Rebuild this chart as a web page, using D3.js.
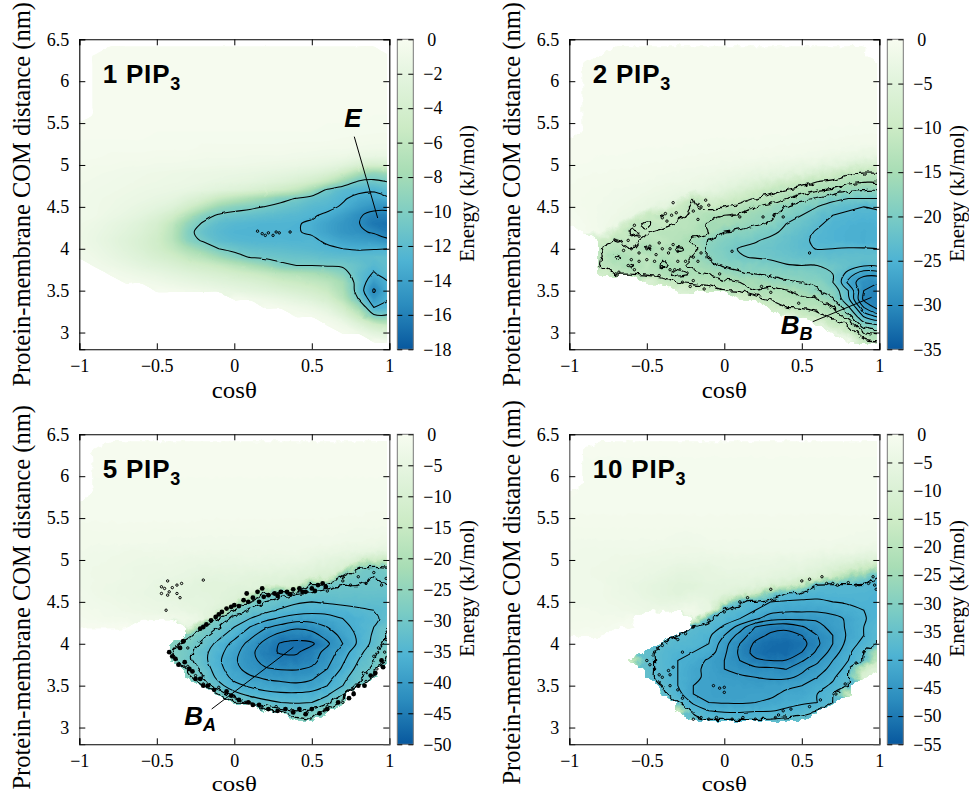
<!DOCTYPE html>
<html>
<head>
<meta charset="utf-8">
<script src="https://cdn.jsdelivr.net/npm/d3@7"></script>
<style>
  html, body { margin: 0; background: #fff; }
  svg { display: block; }
  text { font-family: "Liberation Serif", serif; fill: #000; }
  .title, .tag { font-family: "Liberation Sans", Arial, sans-serif; font-weight: bold; }
  .title { letter-spacing: .8px; }
  .tag { font-style: italic; }
</style>
</head>
<body>
<svg id="chart" width="969" height="796"></svg>
<script>
const _ = null

// axis values of the grids below
const cosValues = [-1, -.9, -.8, -.7, -.6, -.5, -.4, -.3, -.2, -.1, 0, .1, .2, .3, .4, .5, .6, .7, .8, .9, 1]
const distValues = [6.5, 6.4, 6.3, 6.2, 6.1, 6, 5.9, 5.8, 5.7, 5.6, 5.5, 5.4, 5.3, 5.2, 5.1, 5, 4.9, 4.8, 4.7, 4.6, 4.5, 4.4, 4.3, 4.2, 4.1, 4, 3.9, 3.8, 3.7, 3.6, 3.5, 3.4, 3.3, 3.2, 3.1, 3, 2.9, 2.8]
const xTicks = [-1, -.5, 0, .5, 1]
const yTicks = [3, 3.5, 4, 4.5, 5, 5.5, 6, 6.5]

// energy (kJ/mol), one row per distance, top row first. _ = no data
const energy1 = [
  [_,_,_,_,_,_,_,_,_,_,_,_,_,_,_,_,_,_,_,_,_],
  [_,_,-.2,-.2,-.2,-.2,-.2,-.2,-.2,-.2,-.2,-.2,-.2,-.2,-.2,-.2,-.2,-.2,-.2,-.2,_],
  [_,-.2,-.2,-.2,-.2,-.2,-.2,-.2,-.2,-.2,-.2,-.2,-.2,-.2,-.2,-.2,-.2,-.2,-.2,-.2,-.2],
  [_,-.2,-.2,-.2,-.2,-.2,-.2,-.2,-.2,-.2,-.2,-.2,-.2,-.2,-.2,-.2,-.2,-.2,-.2,-.2,-.2],
  [_,-.2,-.2,-.2,-.2,-.2,-.2,-.2,-.2,-.2,-.2,-.2,-.2,-.2,-.2,-.2,-.2,-.2,-.2,-.2,-.2],
  [_,-.2,-.2,-.2,-.2,-.2,-.2,-.2,-.2,-.2,-.2,-.2,-.2,-.2,-.2,-.2,-.2,-.2,-.2,-.2,-.2],
  [_,-.2,-.2,-.2,-.2,-.2,-.2,-.2,-.2,-.2,-.2,-.2,-.2,-.2,-.2,-.2,-.2,-.2,-.2,-.2,-.2],
  [_,-.2,-.2,-.2,-.2,-.2,-.2,-.2,-.2,-.2,-.2,-.2,-.2,-.2,-.2,-.2,-.2,-.2,-.2,-.2,-.2],
  [_,-.2,-.2,-.2,-.2,-.2,-.2,-.2,-.2,-.2,-.2,-.2,-.2,-.2,-.2,-.2,-.2,-.2,-.2,-.2,-.2],
  [_,-.2,-.2,-.2,-.2,-.2,-.2,-.2,-.2,-.2,-.2,-.2,-.2,-.2,-.2,-.2,-.2,-.2,-.2,-.3,-.3],
  [-.2,-.2,-.2,-.2,-.2,-.2,-.2,-.2,-.2,-.2,-.2,-.2,-.2,-.2,-.2,-.2,-.3,-.3,-.3,-.3,-.3],
  [-.2,-.2,-.2,-.2,-.2,-.3,-.3,-.3,-.3,-.3,-.3,-.3,-.3,-.3,-.3,-.3,-.3,-.3,-.4,-.4,-.4],
  [-.3,-.3,-.3,-.3,-.3,-.3,-.3,-.3,-.4,-.4,-.4,-.4,-.4,-.4,-.4,-.4,-.4,-.5,-.5,-.6,-.6],
  [-.3,-.3,-.4,-.4,-.4,-.4,-.4,-.4,-.5,-.5,-.5,-.5,-.5,-.5,-.6,-.6,-.7,-.7,-.8,-.9,-.9],
  [-.4,-.4,-.5,-.5,-.5,-.6,-.6,-.6,-.7,-.7,-.7,-.8,-.8,-.8,-.9,-1,-1.1,-1.2,-1.5,-1.7,-1.6],
  [-.5,-.6,-.6,-.7,-.7,-.8,-.8,-.9,-.9,-1,-1,-1.1,-1.2,-1.3,-1.4,-1.6,-1.9,-2.5,-3.5,-4,-3.5],
  [-.6,-.7,-.8,-.9,-1,-1.1,-1.2,-1.3,-1.4,-1.5,-1.6,-1.7,-1.9,-2.1,-2.4,-2.8,-3.5,-5,-7.5,-9,-8],
  [-.7,-.8,-.9,-1,-1.1,-1.2,-1.3,-1.4,-1.6,-1.8,-2,-2.2,-2.6,-3,-3.6,-4.5,-6,-8.5,-10.8,-11,-10.4],
  [-.8,-.9,-1,-1.1,-1.3,-1.4,-1.6,-1.8,-2.2,-2.6,-3,-3.5,-4.2,-5,-6,-8,-11,-12.2,-12.6,-12.8,-12],
  [-.8,-1,-1.1,-1.3,-1.5,-1.8,-2.1,-3,-4,-5.5,-6.5,-7.5,-8.5,-9.8,-10.6,-11.5,-12,-12.8,-13.5,-13.7,-13.2],
  [-.8,-1,-1.2,-1.5,-1.9,-2.3,-3,-4.5,-6.5,-8.5,-9.5,-10,-10.6,-11.2,-11.7,-12.3,-12.6,-13.2,-14.2,-15,-15],
  [-.8,-1,-1.4,-1.8,-2.3,-3.2,-4.5,-7,-9.5,-10.8,-11.3,-11.6,-11.9,-12.2,-12.4,-12.8,-13.3,-14.2,-15.3,-16,-16],
  [-1,-1.3,-1.8,-2.3,-3,-4,-6,-9,-10.8,-12,-12.4,-12.6,-12.8,-12.8,-12.9,-13.2,-14,-14.8,-15.4,-16.5,-16.8],
  [-1.1,-1.5,-2,-2.6,-3.3,-4.4,-6.5,-9.8,-11.5,-12.3,-12.8,-12.9,-12.9,-12.9,-12.9,-13.2,-14,-14.8,-15.2,-15.7,-16.3],
  [-1.1,-1.6,-2.2,-2.9,-3.6,-4.7,-6.5,-9.5,-10.8,-12,-12.4,-12.6,-12.7,-12.7,-12.8,-12.7,-13.3,-14,-14.3,-14.6,-15.2],
  [-.9,-1.4,-2,-2.7,-3.5,-4.5,-5.8,-7.5,-9,-10.5,-11.2,-11.7,-11.9,-12,-12.2,-12.4,-12.7,-13,-13.2,-13.1,-13],
  [-.7,-1.1,-1.7,-2.3,-3,-3.8,-4.6,-5.8,-6.8,-8.2,-9.5,-10.6,-11,-11.2,-11.4,-11.5,-11.8,-11.9,-12,-12,-11.8],
  [_,-.8,-1.2,-1.7,-2.3,-2.8,-3.4,-4.2,-4.8,-5.5,-6.5,-7.5,-8.5,-10,-10.5,-10.5,-10.7,-10.8,-11.5,-12.4,-11.8],
  [_,_,-.6,-1,-1.4,-1.8,-2.3,-2.8,-3.3,-3.8,-4.4,-5,-5.7,-6.5,-7,-7.5,-8.2,-9.5,-11.8,-13.2,-12],
  [_,_,_,-.4,-.7,-1,-1.4,-1.8,-2.2,-2.6,-3,-3.4,-4,-4.8,-5.3,-5.8,-6.5,-8,-11.5,-14.5,-12.9],
  [_,_,_,_,_,-.3,-.5,-.8,-1.1,-1.5,-1.9,-2.3,-2.7,-3.2,-3.8,-4.4,-5.4,-7.5,-11.5,-15.8,-12.8],
  [_,_,_,_,_,_,_,_,_,_,-.4,-.8,-1.2,-1.7,-2.3,-3,-4,-6.5,-10.5,-14.5,-12.9],
  [_,_,_,_,_,_,_,_,_,_,_,_,-.3,-.6,-1,-1.5,-2.5,-4.5,-8,-13,-12.7],
  [_,_,_,_,_,_,_,_,_,_,_,_,_,_,-.3,-.6,-1.2,-2.8,-5.5,-10,-10],
  [_,_,_,_,_,_,_,_,_,_,_,_,_,_,_,_,-.4,-1.2,-3,-5,-6],
  [_,_,_,_,_,_,_,_,_,_,_,_,_,_,_,_,_,-.4,-1.2,-2.5,-3],
  [_,_,_,_,_,_,_,_,_,_,_,_,_,_,_,_,_,_,_,-.4,-.8],
  [_,_,_,_,_,_,_,_,_,_,_,_,_,_,_,_,_,_,_,_,_]
]

const energy2 = [
  [_,_,_,_,_,_,_,_,_,_,_,_,_,_,_,_,_,_,_,_,_],
  [_,_,_,-.3,-.3,-.3,-.3,-.3,-.3,-.3,-.3,-.3,-.3,-.3,-.3,-.3,-.3,-.3,-.3,-.3,_],
  [_,_,-.3,-.3,-.3,-.3,-.3,-.3,-.3,-.3,-.3,-.3,-.3,-.3,-.3,-.3,-.3,-.3,-.3,-.3,_],
  [_,-.3,-.3,-.3,-.3,-.3,-.3,-.3,-.3,-.3,-.3,-.3,-.3,-.3,-.3,-.3,-.3,-.3,-.3,-.3,-.3],
  [_,-.3,-.3,-.3,-.3,-.3,-.3,-.3,-.3,-.3,-.3,-.3,-.3,-.3,-.3,-.3,-.3,-.3,-.3,-.3,-.3],
  [_,-.4,-.4,-.4,-.4,-.4,-.4,-.4,-.4,-.4,-.4,-.4,-.4,-.4,-.4,-.4,-.4,-.4,-.4,-.4,-.4],
  [_,-.4,-.4,-.4,-.4,-.4,-.4,-.4,-.4,-.4,-.4,-.4,-.4,-.4,-.4,-.4,-.4,-.4,-.4,-.4,-.4],
  [_,-.4,-.4,-.4,-.4,-.4,-.4,-.4,-.4,-.4,-.4,-.4,-.4,-.4,-.4,-.4,-.4,-.4,-.4,-.4,-.4],
  [_,-.4,-.4,-.4,-.4,-.4,-.4,-.4,-.4,-.4,-.4,-.4,-.4,-.4,-.4,-.4,-.4,-.4,-.4,-.4,-.4],
  [_,-.4,-.4,-.4,-.4,-.4,-.4,-.4,-.4,-.4,-.4,-.4,-.4,-.4,-.4,-.4,-.4,-.4,-.4,-.5,-.5],
  [_,-.4,-.4,-.4,-.4,-.4,-.4,-.4,-.4,-.4,-.4,-.4,-.4,-.4,-.4,-.5,-.5,-.5,-.5,-.6,-.6],
  [_,-.4,-.4,-.4,-.4,-.4,-.4,-.4,-.5,-.5,-.5,-.5,-.5,-.5,-.5,-.6,-.6,-.7,-.7,-.8,-.8],
  [-.3,-.4,-.4,-.5,-.5,-.5,-.5,-.5,-.5,-.6,-.6,-.6,-.6,-.7,-.7,-.8,-.8,-.9,-1,-1,-1],
  [-.4,-.4,-.5,-.5,-.5,-.6,-.6,-.6,-.7,-.7,-.8,-.8,-.8,-.9,-1,-1,-1.2,-1.4,-1.6,-1.8,-1.8],
  [-.5,-.5,-.6,-.6,-.7,-.7,-.7,-.8,-.9,-1,-1.1,-1.2,-1.3,-1.4,-1.5,-1.7,-2,-2.5,-3,-3.5,-3.5],
  [-.6,-.6,-.7,-.7,-.8,-.9,-1,-1.1,-1.3,-1.5,-1.7,-1.9,-2.2,-2.5,-2.8,-3.2,-3.8,-4.5,-5.5,-7,-7],
  [-.7,-.8,-.9,-1,-1,-1.2,-1.4,-1.6,-1.8,-2,-2.5,-3,-3.5,-4,-4.5,-5.5,-7,-9,-11.5,-12.2,-12],
  [-.8,-1,-1,-1.2,-1.3,-1.5,-1.8,-2,-2.3,-2.8,-3.5,-4.5,-6,-7.5,-9,-10.5,-12,-13,-14,-14.8,-14.5],
  [-1,-1.1,-1.3,-1.5,-1.7,-2,-2.4,-2.8,-3.2,-3.8,-5,-7,-9,-11,-12.2,-13.2,-15,-15.5,-17.3,-17.8,-17.6],
  [-1,-1.2,-1.4,-1.7,-2,-2.5,-3,-3.8,-12.3,-7,-8,-10,-12.2,-13,-15,-17,-18,-20,-21,-21,-21],
  [-.8,-1.2,-1.5,-1.9,-2.4,-3.2,-4.5,-10,-12.5,-11,-12,-13.5,-15,-16.5,-18,-19.5,-21,-22.5,-23.5,-24,-23.5],
  [-.6,-1.1,-1.6,-2.2,-3,-10,-12.2,-11,-13,-14,-15,-15.5,-16.5,-17.5,-19.5,-21,-22.5,-24,-24.5,-24.8,-24.6],
  [-.3,-.9,-1.6,-2.5,-11,-12.5,-10.5,-12.5,-13,-15.5,-15.5,-16.5,-17.5,-18.5,-21,-22,-23.5,-24.8,-25.2,-25.5,-25.2],
  [_,-.6,-1.5,-9,-12.5,-11.5,-13,-13,-13.5,-15,-18,-18.5,-19.5,-20.5,-21.5,-23,-24.3,-25,-25.5,-25.7,-25.5],
  [_,_,-9,-12.2,-11,-13,-12,-13.5,-15.5,-18,-19.5,-20,-20.8,-21.5,-22.5,-23.5,-24.5,-25,-25.5,-25.7,-25.4],
  [_,_,-12,-13,-12,-15.5,-13,-15.5,-14,-18.5,-20,-21.2,-21.5,-22,-22.5,-23.5,-24.1,-24,-23.8,-23.8,-24],
  [_,_,-11.5,-15.5,-13.5,-12,-14.5,-13,-15.5,-18.5,-19.5,-20.8,-21.2,-21.5,-22,-22.5,-22.8,-23,-23,-23,-22.8],
  [_,_,-12.5,-13,-15.5,-12,-15.5,-14,-15.5,-16.5,-18.5,-19,-19.5,-20,-20.8,-21,-21,-21.5,-22.5,-23.8,-23.5],
  [_,_,-8,-12,-12.5,-13,-13.5,-16,-14.5,-15,-16,-17.5,-18,-18.5,-19,-19.5,-20,-21,-25,-27.3,-27],
  [_,_,_,_,_,-6,-10,-12,-13,-13.5,-14.5,-15,-15.5,-16.5,-17.5,-18,-18.5,-21,-26.5,-29.5,-30],
  [_,_,_,_,_,_,_,-6,-8,-10,-12,-12.5,-15,-14,-14.8,-16,-17.8,-19,-24,-30,-31.5],
  [_,_,_,_,_,_,_,_,_,_,_,-8,-10,-12.5,-13,-14.5,-15,-17.8,-23.5,-30.5,-31.5],
  [_,_,_,_,_,_,_,_,_,_,_,_,_,-9,-12,-12.5,-13,-15,-20.5,-28,-31],
  [_,_,_,_,_,_,_,_,_,_,_,_,_,_,-5,-9,-11,-13,-17,-24.5,-27],
  [_,_,_,_,_,_,_,_,_,_,_,_,_,_,_,_,-5,-10,-12.5,-20,-21.5],
  [_,_,_,_,_,_,_,_,_,_,_,_,_,_,_,_,_,-3,-9,-15,-16],
  [_,_,_,_,_,_,_,_,_,_,_,_,_,_,_,_,_,_,-1,-11,-12],
  [_,_,_,_,_,_,_,_,_,_,_,_,_,_,_,_,_,_,_,_,_]
]

const energy5 = [
  [_,_,_,_,_,_,_,_,_,_,_,_,_,_,_,_,_,_,_,_,_],
  [_,_,-.5,-.5,-.5,-.5,-.5,-.5,-.5,-.5,-.5,-.5,-.5,-.5,-.5,-.5,-.5,-.5,-.5,-.5,-.5],
  [_,-.6,-.6,-.6,-.6,-.6,-.6,-.6,-.6,-.6,-.6,-.6,-.6,-.6,-.6,-.6,-.6,-.6,-.6,-.6,-.6],
  [_,-.8,-.8,-.8,-.8,-.8,-.8,-.8,-.8,-.8,-.8,-.8,-.8,-.8,-.8,-.8,-.8,-.8,-.8,-.8,-.8],
  [_,-.8,-.8,-.8,-.8,-.8,-.8,-.8,-.8,-.8,-.8,-.8,-.8,-.8,-.8,-.8,-.8,-.8,-.8,-.8,-.8],
  [_,-.8,-.8,-.8,-.8,-.8,-.8,-.8,-.8,-.8,-.8,-.8,-.8,-.8,-.8,-.8,-.8,-.8,-.8,-.8,-.8],
  [_,-1,-1,-1,-1,-1,-1,-1,-1,-1,-1,-1,-1,-1,-1,-1,-1,-1,-1,-1,-1],
  [_,-1,-1,-1,-1,-1,-1,-1,-1,-1,-1,-1,-1,-1,-1,-1,-1,-1,-1,-1,-1],
  [-.8,-1,-1,-1,-1,-1,-1,-1,-1,-1,-1,-1,-1,-1,-1,-1,-1,-1,-1,-1,-1],
  [-.8,-1,-1,-1,-1,-1,-1,-1,-1,-1,-1,-1,-1,-1,-1,-1,-1,-1,-1,-1.2,-1.2],
  [-1,-1,-1,-1,-1,-1,-1,-1,-1.2,-1.2,-1.2,-1.2,-1.2,-1.2,-1.2,-1.2,-1.2,-1.4,-1.4,-1.5,-1.5],
  [-1.5,-1.5,-1.5,-1.5,-1.5,-1.5,-1.5,-1.5,-1.5,-1.5,-1.5,-1.5,-1.5,-1.5,-1.5,-1.5,-1.6,-1.7,-2,-2,-2],
  [-1.8,-1.8,-1.8,-1.8,-1.8,-2,-2,-2,-2,-2,-2,-2,-2,-2,-2,-2,-2,-2.2,-2.5,-2.5,-2.8],
  [-2,-2,-2,-2,-2,-2,-2.2,-2.2,-2.5,-2.5,-2.5,-2.5,-2.5,-2.5,-2.5,-2.5,-2.5,-3,-3,-3.5,-4],
  [-2,-2.5,-2.5,-3,-3,-3,-3,-3,-3,-3,-3,-3,-3,-3,-3,-3.5,-4,-4.5,-5,-6,-6],
  [-2.5,-2.5,-3,-3,-3.5,-3.5,-3.5,-4,-4,-4,-4,-3.5,-4,-4,-4,-5,-6,-7,-10,-14,-13],
  [-2.5,-3,-3,-3.5,-4,-4,-4,-4.5,-5,-5,-5,-5,-5,-5.5,-6,-7,-8,-10,-28,-30,-28],
  [-2.5,-3,-3,-3.5,-4,-4.5,-4.5,-5,-6,-6,-6,-6.5,-7,-7,-8,-9,-10,-28,-30,-31,-30],
  [-2.5,-3,-3.5,-4,-4,-5,-5.5,-6,-7,-7,-7,-7,-8,-9,-10,-29,-30,-31,-31,-31,-31],
  [-2,-3,-3.5,-4,-4.5,-5,-6,-6.5,-6.5,-7,-8,-9,-28,-30,-31,-31.5,-32,-32,-32,-32,-32],
  [-2,-2.5,-3,-3.5,-4,-4.5,-5,-6,-6,-7,-9,-28,-31,-32,-33.5,-34,-33.5,-33,-33,-33,-33],
  [-1.5,-2,-2.5,-3,-3.5,-4,-4,-5,-6,-8,-28,-31.5,-33,-34.5,-35.5,-36,-36,-35.5,-34.5,-34,-33.5],
  [-1,-1.5,-2,-2,-2.5,-2,-2.5,-3,-5,-29,-32,-34,-36,-37.5,-38.5,-38.5,-38,-37,-36,-34.5,-33],
  [-.5,-.5,-.5,-.3,_,_,_,-5,-28,-31,-34,-37,-39.5,-41,-42.5,-42,-40,-38,-36,-34,-31],
  [_,_,_,_,_,_,_,-27,-30,-33,-36,-39,-42,-44,-44.5,-44,-42,-39,-36.5,-33.5,-30],
  [_,_,_,_,_,_,-27,-29,-32,-35,-38,-41,-44,-46.3,-47,-46.5,-43.5,-40,-36.5,-33,-30],
  [_,_,_,_,_,_,-28,-30,-33,-36,-39,-42,-45,-46.3,-46.4,-44.5,-42,-38.5,-35,-32,-28],
  [_,_,_,_,_,_,-27,-30,-33,-36.5,-39.5,-42,-44,-45,-45,-44,-41,-37.5,-34,-31,-27],
  [_,_,_,_,_,_,_,-29,-32,-36,-39,-41.3,-42.7,-43.2,-43.3,-42.5,-40,-36.5,-33,-30,_],
  [_,_,_,_,_,_,_,-27,-31,-35,-38,-39.5,-40.5,-41,-41,-40.5,-38.5,-35,-32,-28,_],
  [_,_,_,_,_,_,_,_,-29,-33,-36,-37.5,-38.5,-39,-39.5,-39,-37,-34,-30,_,_],
  [_,_,_,_,_,_,_,_,_,-29,-33,-35,-36,-36.5,-36.5,-36,-34.5,-31,_,_,_],
  [_,_,_,_,_,_,_,_,_,_,-28,-31,-33,-34,-34.3,-34,-32,-27,_,_,_],
  [_,_,_,_,_,_,_,_,_,_,_,_,-28,-30,-31,-30,-27,_,_,_,_],
  [_,_,_,_,_,_,_,_,_,_,_,_,_,_,-27,-28,_,_,_,_,_],
  [_,_,_,_,_,_,_,_,_,_,_,_,_,_,_,_,_,_,_,_,_],
  [_,_,_,_,_,_,_,_,_,_,_,_,_,_,_,_,_,_,_,_,_],
  [_,_,_,_,_,_,_,_,_,_,_,_,_,_,_,_,_,_,_,_,_]
]

const energy10 = [
  [_,_,_,_,_,_,_,_,_,_,_,_,_,_,_,_,_,_,_,_,_],
  [_,_,-.5,-.5,-.5,-.5,-.5,-.5,-.5,-.5,-.5,-.5,-.5,-.5,-.5,-.5,-.5,-.5,-.5,-.5,-.5],
  [_,-.7,-.7,-.7,-.7,-.7,-.7,-.7,-.7,-.7,-.7,-.7,-.7,-.7,-.7,-.7,-.7,-.7,-.7,-.7,-.7],
  [_,-1,-1,-1,-1,-1,-1,-1,-1,-1,-1,-1,-1,-1,-1,-1,-1,-1,-1,-1,-1],
  [_,-1,-1,-1,-1,-1,-1,-1,-1,-1,-1,-1,-1,-1,-1,-1,-1,-1,-1,-1,-1],
  [_,-1,-1,-1,-1,-1,-1,-1,-1,-1,-1,-1,-1,-1,-1,-1,-1,-1,-1,-1,-1],
  [_,-1,-1,-1,-1,-1,-1,-1,-1,-1,-1,-1,-1,-1,-1,-1,-1,-1,-1,-1,-1],
  [-.8,-1,-1,-1,-1,-1,-1,-1,-1,-1,-1,-1,-1,-1,-1,-1,-1,-1,-1,-1,-1],
  [-1,-1,-1,-1,-1,-1,-1,-1,-1,-1,-1,-1,-1,-1,-1,-1,-1,-1,-1,-1.2,-1.2],
  [-1.2,-1.2,-1.2,-1.2,-1.2,-1.2,-1.2,-1.2,-1.2,-1.2,-1.2,-1.2,-1.2,-1.2,-1.2,-1.2,-1.2,-1.2,-1.2,-1.2,-1.2],
  [-1.5,-1.5,-1.5,-1.5,-1.5,-1.5,-1.5,-1.5,-1.5,-1.5,-1.5,-1.5,-1.5,-1.5,-1.5,-1.5,-1.5,-1.5,-1.5,-1.5,-1.5],
  [-1.8,-1.8,-1.8,-1.8,-1.8,-1.8,-1.8,-1.8,-1.8,-1.8,-1.8,-1.8,-1.8,-1.8,-1.8,-1.8,-1.8,-1.8,-2,-2,-2],
  [-2,-2,-2,-2,-2,-2,-2,-2.5,-2.5,-2,-2,-2,-2,-2,-2,-2,-2,-2,-2.2,-2.5,-2.5],
  [-2.5,-2.5,-2.5,-2.5,-2.5,-2.5,-2.5,-3,-3,-2.5,-2.5,-2.5,-2.5,-2.5,-2.5,-2.5,-2.5,-2.5,-3,-3,-3.5],
  [-2.5,-3,-3,-3,-3,-3,-3.5,-3.5,-3.5,-3.5,-3,-3,-3,-3,-3,-3,-3.5,-4,-4,-5,-5],
  [-3,-3,-3,-3.5,-3.5,-4,-4,-4.5,-4.5,-4.5,-4.5,-4.5,-4.5,-4.5,-5,-5,-6,-7,-8,-9,-10],
  [-3,-3,-3.5,-3.5,-4,-4.5,-5,-6,-6,-6,-5,-5,-5,-5.5,-6,-6.5,-8,-10,-13,-17,-20],
  [-3,-3,-3.5,-4,-4.5,-5,-6,-7,-7,-6,-6,-6,-6,-6.5,-8,-9,-11,-16,-24,-30,-37],
  [-3,-3,-3,-4,-5,-6,-7,-8,-8,-7,-7,-7,-8,-10,-13,-17,-37,-38,-38,-38,-39],
  [-3,-3,-3,-4,-4.5,-6,-7,-8,-7,-7,-8,-11,-15,-30,-37,-38.5,-39,-39,-39,-39,-39.5],
  [-2.5,-3,-3,-3.5,-4,-5,-6,-6,-5,-6,-15,-36,-38.5,-40,-40.5,-40.5,-40.5,-40,-39.8,-39.5,-39.5],
  [-2,-2,-2.5,-3,-3.5,-4,-4,-3,-3,-6,-37,-38.5,-40,-41.5,-42,-42,-42,-41.5,-40.5,-40,-39.5],
  [-2,-2,-2,-2,-1.5,_,_,_,-4,-36,-38.5,-40,-42,-44,-44.5,-44.5,-44.5,-43.5,-42,-40.2,-39],
  [-1.5,-1.5,-1.5,-1,-.5,_,_,_,-37,-38,-40.5,-43.5,-47.5,-49,-49.3,-47.8,-46,-44,-42,-40,-38],
  [-.8,-.8,-.5,_,_,_,_,-37,-38,-39.5,-42.5,-46,-49,-50.5,-51,-50,-47.5,-45,-42,-40,-38],
  [_,_,_,_,_,_,-37,-38,-38.5,-40,-44,-47.5,-50.5,-52,-52.5,-51,-48,-45,-41.5,-39,-36],
  [_,_,_,_,_,-36,-38,-39,-40,-41,-44.5,-48,-51,-52.5,-52.5,-50,-47,-44,-40.5,-38,-20],
  [_,_,_,_,-15,-36,-38,-40,-41,-43,-45,-47.5,-49.5,-50,-49.8,-47.8,-45.5,-42.5,-40,-37,-15],
  [_,_,_,_,_,-36,-38,-40,-42,-43,-45,-46,-46.8,-47,-47.6,-45.5,-44,-41.5,-39,-15,-8],
  [_,_,_,_,_,-36,-38,-40,-42,-43,-44,-44.5,-45,-45.5,-45.5,-44.5,-42.5,-40.5,-37.5,-10,_],
  [_,_,_,_,_,_,-37,-40,-42.5,-43,-43.5,-43.5,-44,-43.5,-43,-42.5,-41,-39.5,-37,_,_],
  [_,_,_,_,_,_,-36,-39,-42.5,-43,-43.5,-43.5,-43,-43,-42,-42,-40,-38.5,-15,_,_],
  [_,_,_,_,_,_,_,-37,-40.5,-42.5,-42.7,-42.8,-42.5,-42,-41,-40.5,-40,-37,_,_,_],
  [_,_,_,_,_,_,_,-15,-38,-40,-40.5,-40.5,-40.2,-40.2,-39.5,-38.5,-37,_,_,_,_],
  [_,_,_,_,_,_,_,_,-36,-37.5,-37.5,-38,-38,-37,-36.5,-36,_,_,_,_,_],
  [_,_,_,_,_,_,_,_,_,_,_,_,_,_,_,_,_,_,_,_,_],
  [_,_,_,_,_,_,_,_,_,_,_,_,_,_,_,_,_,_,_,_,_],
  [_,_,_,_,_,_,_,_,_,_,_,_,_,_,_,_,_,_,_,_,_]
]

// contour levels (kJ/mol), and the ones that are ragged in the picture
const levels1 = [-10.5, -13, -15.5]
const levels2 = [-12, -15, -18, -21, -24, -26, -28, -30]
const levels5 = [-28, -31, -34, -37, -40, -43, -46]
const levels10 = [-37, -40, -42.5, -45, -47.5, -50]
const ragged1 = []
const ragged2 = [-12, -15, -18]
const ragged5 = [-28, -31]
const ragged10 = [-37]

// colorbar ticks
const barTicks1 = [0, -2, -4, -6, -8, -10, -12, -14, -16, -18]
const barTicks2 = [0, -5, -10, -15, -20, -25, -30, -35]
const barTicks5 = [0, -5, -10, -15, -20, -25, -30, -35, -40, -45, -50]
const barTicks10 = [0, -5, -10, -15, -20, -25, -30, -35, -40, -45, -50, -55]

// specks of noise in the contour lines: [cos, distance]
const loops1 = [[.15, 4.21], [.18, 4.18], [.2, 4.16], [.22, 4.19], [.25, 4.16], [.27, 4.2], [.29, 4.19], [.36, 4.2]]
const loops2 = [[-.33, 4.55], [-.4, 4.37], [-.38, 4.42], [-.37, 4.33], [-.34, 4.4], [-.31, 4.43], [-.2, 4.45], [-.15, 4.5], [-.1, 4.52], [-.12, 4.58], [-.17, 4.35], [-.55, 4.15], [-.58, 4.28], [-.6, 4], [-.7, 4.1], [-.62, 4.1], [-.65, 3.98], [-.55, 3.95], [-.5, 4], [-.48, 4.03], [-.42, 4.07], [-.4, 4], [-.35, 4], [-.3, 3.97], [-.33, 4.05], [-.36, 3.95], [-.44, 3.93], [-.5, 3.87], [-.55, 3.85], [-.6, 3.87], [-.62, 3.8], [-.58, 3.75], [-.45, 3.85], [-.3, 3.85], [-.32, 3.75], [-.25, 3.85], [-.2, 3.9], [-.15, 3.95], [-.17, 3.85], [-.03, 3.7], [-.7, 3.7], [-.68, 3.72], [-.42, 3.68], [-.35, 3.75], [-.27, 3.6], [-.22, 3.55], [-.2, 3.62], [-.13, 3.52], [.24, 3.55], [.05, 3.97], [.55, 3.95], [.3, 3.48], [.48, 3.35], [.58, 3.43], [.05, 4.4], [.1, 4.38], [.25, 4.38], [.32, 4.4], [.38, 4.38]]
const blots5 = [[-.22, 4.18], [-.2, 4.2], [-.18, 4.23], [-.15, 4.28], [-.12, 4.32], [-.1, 4.35], [-.08, 4.38], [-.05, 4.42], [-.02, 4.44], [0, 4.46], [.03, 4.45], [.06, 4.52], [.09, 4.5], [.12, 4.55], [.16, 4.5], [.19, 4.56], [.22, 4.58], [.26, 4.6], [.28, 4.57], [.3, 4.62], [.34, 4.62], [.36, 4.59], [.38, 4.65], [.42, 4.66], [.44, 4.62], [.46, 4.62], [.5, 4.66], [.52, 4.63], [.54, 4.7], [.57, 4.72], [.59, 4.68], [.08, 4.6], [.15, 4.62], [.18, 4.66], [-.4, 3.85], [-.42, 3.9], [-.38, 3.82], [-.35, 3.95], [-.33, 4.03], [-.36, 3.75], [-.32, 3.78], [-.29, 3.7], [-.27, 3.67], [-.25, 3.58], [-.22, 3.58], [-.2, 3.5], [-.17, 3.5], [-.13, 3.45], [-.05, 3.43], [-.02, 3.38], [.03, 3.33], [.09, 3.3], [.12, 3.27], [.16, 3.27], [.22, 3.22], [.28, 3.2], [.33, 3.22], [.38, 3.18], [.42, 3.22], [.46, 3.16], [.5, 3.22], [.55, 3.17], [.6, 3.22], [.67, 3.3], [.74, 3.35], [.77, 3.4], [.8, 3.5], [.84, 3.5], [.88, 3.62], [.91, 3.65], [.95, 3.8], [.96, 3.72]]
const loops5 = [[-.47, 4.68], [-.45, 4.66], [-.42, 4.62], [-.4, 4.67], [-.37, 4.7], [-.34, 4.72], [-.37, 4.6], [-.43, 4.75], [-.47, 4.6], [-.43, 4.58], [-.44, 4.4], [-.2, 4.76], [-.35, 4.55], [-.3, 3.95], [-.3, 3.73], [-.25, 3.62], [-.2, 3.52], [-.1, 3.48], [0, 3.37], [.07, 3.3], [.18, 3.25], [.27, 3.25], [.38, 3.2], [.47, 3.18], [.58, 3.2], [.6, 3.25], [.7, 3.3], [.77, 3.42], [.85, 3.55], [.92, 3.7], [.97, 3.9], [.93, 3.95], [.9, 3.85], [.98, 4.05], [.7, 4.75], [.8, 4.8], [.75, 4.7], [.95, 4.7], [.98, 4.78], [.6, 4.63], [.85, 4.72], [.9, 4.85]]
const loops10 = [[-.5, 3.8], [-.48, 3.75], [-.45, 3.7], [-.42, 3.63], [-.4, 3.6], [-.35, 3.63], [-.45, 3.9], [-.4, 3.98], [-.3, 4.05], [-.25, 4.12], [-.2, 4.2], [-.1, 4.28], [0, 4.38], [.05, 4.42], [.1, 4.5], [.15, 4.55], [.3, 4.65], [.5, 4.75], [.55, 4.77], [.63, 4.8], [.66, 4.72], [.7, 4.72], [.73, 4.7], [.8, 4.73], [.85, 4.7], [.93, 4.72], [.97, 4.7], [.98, 4.65], [.96, 4.8], [-.27, 3.35], [-.3, 3.45], [-.35, 3.5], [-.2, 3.1], [-.15, 3.12], [-.1, 3.1], [-.05, 3.12], [.05, 3.1], [.12, 3.12], [.2, 3.1], [.33, 3.12], [.35, 3.15], [.38, 3.2], [.43, 3.22], [.55, 3.25], [.62, 3.33], [.72, 3.4], [.78, 3.52], [.85, 3.77], [.9, 3.9], [-.36, 3.68], [-.33, 3.72], [-.27, 3.9], [-.07, 3.5], [-.03, 3.47], [0, 3.42], [0, 3.48]]

// the GnBu ramp used for energy, light to dark
const ramp = ['#f7fcf0', '#e0f3db', '#ccebc5', '#a8ddb5', '#7bccc4', '#4eb3d3', '#2b8cbe', '#08589e']

const panels = [
  {left: 79.3, top: 39.3, grid: energy1, levels: levels1, ragged: ragged1, barTicks: barTicks1, count: '1', loops: loops1, blots: [],
    tag: 'E', sub: '', tagAt: [.71, 5.45], line: [[.774, 5.338], [.925, 4.367]], labelShift: 0, edge: '#000', heatRough: false, cosDrop: 49, cosSize: 24},
  {left: 569.3, top: 39.3, grid: energy2, levels: levels2, ragged: ragged2, barTicks: barTicks2, count: '2', loops: loops2, blots: [],
    tag: 'B', sub: 'B', tagAt: [.364, 2.98], line: [[.57, 3.129], [.95, 3.42]], labelShift: 0, edge: '#000', heatRough: true, cosDrop: 49, cosSize: 24},
  {left: 79.3, top: 434.3, grid: energy5, levels: levels5, ragged: ragged5, barTicks: barTicks5, count: '5', loops: loops5, blots: blots5,
    tag: 'B', sub: 'A', tagAt: [-.323, 3.03], line: [[-.146, 3.221], [.381, 3.958]], labelShift: 8, edge: '#555', heatRough: true, cosDrop: 46.7, cosSize: 21.5},
  {left: 569.3, top: 434.3, grid: energy10, levels: levels10, ragged: ragged10, barTicks: barTicks10, count: '10', loops: loops10, blots: [],
    tag: '', sub: '', tagAt: null, line: null, labelShift: 3, edge: '#555', heatRough: true, cosDrop: 46.7, cosSize: 21.5}
]

const plotWidth = 310
const plotHeight = 310
const nCols = cosValues.length
const nRows = distValues.length
const svg = d3.select('#chart')
const ring = d3.line().curve(d3.curveCatmullRomClosed.alpha(.5))

panels.forEach((panel, idx) => {
  const g = svg.append('g').attr('transform', `translate(${panel.left},${panel.top})`)
  const x = d3.scaleLinear().domain([-1, 1]).range([0, plotWidth])
  const y = d3.scaleLinear().domain([2.8, 6.5]).range([plotHeight, 0])

  const minEnergy = d3.min(panel.barTicks)
  const barScale = d3.scaleLinear().domain([0, minEnergy]).range([0, plotHeight])
  const color = d3.scaleLinear()
    .domain(ramp.map((c, i) => minEnergy * i / (ramp.length - 1)))
    .range(ramp)

  // depth = -energy so that d3.contours closes around the wells
  const depth = panel.grid.flatMap(row => {
    if (row.length !== nCols) throw new Error('bad row in panel ' + idx)
    return row.map(v => v === null ? 0 : -v)
  })
  const mask = panel.grid.flatMap(row => row.map(v => v === null ? 0 : 1))

  // colours next to no-data cells take the neighbour's value, the mask cuts the edge sharp
  let fillDepth = panel.grid.flatMap(row => row.map(v => v === null ? -1 : -v))
  for (let pass = 0; pass < 2; pass++) {
    fillDepth = fillDepth.map((v, i) => {
      if (v >= 0) return v
      const r = Math.floor(i / nCols)
      const c = i % nCols
      let best = -1
      for (let dr = -1; dr <= 1; dr++) {
        for (let dc = -1; dc <= 1; dc++) {
          const rr = r + dr
          const cc = c + dc
          if (rr < 0 || rr >= nRows || cc < 0 || cc >= nCols) continue
          best = Math.max(best, fillDepth[rr * nCols + cc])
        }
      }
      return best
    })
  }
  fillDepth = fillDepth.map(v => Math.max(v, 0))

  // grid cell centres sit at +0.5 in contour coordinates, rings are drawn as smooth curves
  const toPixel = p => [x(-1 + (p[0] - .5) * .1), y(6.5 - (p[1] - .5) * .1)]
  const path = shape => shape.coordinates
    .flatMap(polygon => polygon.map(r => ring(r.slice(0, -1).map(toPixel))))
    .join('')
  const contours = d3.contours().size([nCols, nRows])

  const clipId = 'plot-clip-' + idx
  const maskId = 'mask-clip-' + idx
  const defs = g.append('defs')
  defs.append('clipPath').attr('id', clipId).append('rect')
    .attr('x', 0).attr('y', 0)
    .attr('width', x(.985)).attr('height', plotHeight)
  defs.append('clipPath').attr('id', maskId).append('path')
    .attr('d', path(contours.contour(mask, .85)))

  // ragged edges of the sampled surface
  const addRagged = (id, scale, freq) => {
    const filter = defs.append('filter').attr('id', id)
      .attr('filterUnits', 'userSpaceOnUse')
      .attr('x', -10).attr('y', -10)
      .attr('width', plotWidth + 20).attr('height', plotHeight + 20)
      .attr('color-interpolation-filters', 'sRGB')
    filter.append('feTurbulence')
      .attr('type', 'fractalNoise')
      .attr('baseFrequency', freq)
      .attr('numOctaves', 2)
      .attr('seed', idx + 3)
      .attr('result', 'noise')
    filter.append('feDisplacementMap')
      .attr('in', 'SourceGraphic')
      .attr('in2', 'noise')
      .attr('scale', scale)
      .attr('xChannelSelector', 'R')
      .attr('yChannelSelector', 'G')
  }
  const softId = 'soft-' + idx
  const roughId = 'rough-' + idx
  addRagged(softId, 2, .12)
  addRagged(roughId, 7, .14)

  const plot = g.append('g').attr('clip-path', `url(#${clipId})`)
  const heat = plot.append('g')
    .attr('filter', `url(#${panel.heatRough ? roughId : softId})`)
    .append('g')
    .attr('clip-path', `url(#${maskId})`)

  heat.append('rect')
    .attr('x', -10).attr('y', -10)
    .attr('width', plotWidth + 20).attr('height', plotHeight + 20)
    .attr('fill', color(0))

  const step = -minEnergy / 120
  heat.selectAll('path')
    .data(d3.range(step, -minEnergy, step))
    .enter()
    .append('path')
    .attr('d', t => path(contours.contour(fillDepth, t)))
    .attr('fill', t => color(-t))

  // contour lines
  plot.selectAll('.level')
    .data(panel.levels)
    .enter()
    .append('path')
    .attr('class', 'level')
    .attr('d', l => path(contours.contour(depth, -l)))
    .attr('fill', 'none')
    .attr('stroke', '#000')
    .attr('stroke-width', l => panel.ragged.includes(l) ? 1.2 : 1.05)
    .attr('filter', l => `url(#${panel.ragged.includes(l) ? roughId : softId})`)

  plot.selectAll('.loop')
    .data(panel.loops)
    .enter()
    .append('circle')
    .attr('class', 'loop')
    .attr('cx', d => x(d[0]))
    .attr('cy', d => y(d[1]))
    .attr('r', 1.2)
    .attr('fill', 'none')
    .attr('stroke', '#000')
    .attr('stroke-width', 1)

  plot.selectAll('.blot')
    .data(panel.blots)
    .enter()
    .append('circle')
    .attr('class', 'blot')
    .attr('cx', d => x(d[0]))
    .attr('cy', d => y(d[1]))
    .attr('r', 2.4)
    .attr('fill', '#000')

  // frame and ticks, all pointing inwards
  const axisLeft = g.append('g').call(d3.axisLeft(y).tickValues(yTicks).tickSize(-6).tickPadding(10).tickFormat(d3.format('')))
  const axisBottom = g.append('g').attr('transform', `translate(0,${plotHeight})`)
    .call(d3.axisBottom(x).tickValues(xTicks).tickSize(-6).tickPadding(10).tickFormat(d3.format('')))
  g.append('g').call(d3.axisTop(x).tickValues(xTicks).tickSize(-6).tickFormat(''))
  const axisRight = g.append('g').attr('transform', `translate(${plotWidth},0)`)
    .call(d3.axisRight(y).tickValues(yTicks).tickSize(-6).tickFormat(''))
  axisLeft.selectAll('text').style('font-size', '18px')
  axisBottom.selectAll('text').style('font-size', '18px')
  g.selectAll('.domain').attr('stroke', '#000').attr('stroke-width', 1.1)
  g.selectAll('.tick line').attr('stroke', '#000')
  axisLeft.select('.domain').attr('stroke', panel.edge)
  axisRight.select('.domain').attr('stroke', panel.edge)

  // axis labels
  g.append('text')
    .attr('x', plotWidth / 2)
    .attr('y', plotHeight + panel.cosDrop)
    .attr('text-anchor', 'middle')
    .attr('textLength', 45)
    .attr('lengthAdjust', 'spacingAndGlyphs')
    .style('font-size', panel.cosSize + 'px')
    .text('cosθ')

  g.append('text')
    .attr('transform', `translate(-49,${plotHeight / 2 + panel.labelShift}) rotate(-90)`)
    .attr('text-anchor', 'middle')
    .style('font-size', '24.5px')
    .text('Protein-membrane COM distance (nm)')

  // colorbar
  const bar = g.append('g').attr('transform', `translate(${plotWidth + 8},0)`)
  const gradId = 'bar-grad-' + idx
  const grad = defs.append('linearGradient').attr('id', gradId)
    .attr('x1', 0).attr('y1', 0).attr('x2', 0).attr('y2', 1)
  ramp.forEach((c, i) => {
    grad.append('stop').attr('offset', i / (ramp.length - 1)).attr('stop-color', c)
  })
  bar.append('rect')
    .attr('width', 16).attr('height', plotHeight)
    .attr('fill', `url(#${gradId})`)
    .attr('stroke', '#777')

  bar.append('g').call(d3.axisLeft(barScale).tickValues(panel.barTicks).tickSize(-5).tickFormat(''))
    .call(s => s.select('.domain').remove())
  const barAxis = bar.append('g').attr('transform', 'translate(16,0)')
    .call(d3.axisRight(barScale).tickValues(panel.barTicks).tickSize(-5).tickPadding(10).tickFormat(d3.format('')))
    .call(s => s.select('.domain').remove())
  barAxis.selectAll('text')
    .style('font-size', '18px')
    .attr('dx', d => d === 0 ? 4 : 0)
  bar.selectAll('.tick line').attr('stroke', '#000')

  bar.append('text')
    .attr('transform', `translate(77,${plotHeight / 2 - 1}) rotate(-90)`)
    .attr('text-anchor', 'middle')
    .style('font-size', '21px')
    .text('Energy (kJ/mol)')

  // panel title
  const title = g.append('text')
    .attr('class', 'title')
    .attr('x', 23.4)
    .attr('y', 43.5)
    .style('font-size', '26px')
  title.append('tspan').text(panel.count + ' PIP')
  title.append('tspan').attr('dy', 7).style('font-size', '18px').text('3')

  // state annotation
  if (panel.line) {
    g.append('line')
      .attr('x1', x(panel.line[0][0])).attr('y1', y(panel.line[0][1]))
      .attr('x2', x(panel.line[1][0])).attr('y2', y(panel.line[1][1]))
      .attr('stroke', '#000')
    const tag = g.append('text')
      .attr('class', 'tag')
      .attr('x', x(panel.tagAt[0]))
      .attr('y', y(panel.tagAt[1]))
      .style('font-size', '26px')
    tag.append('tspan').text(panel.tag)
    tag.append('tspan').attr('dy', 6).style('font-size', '18px').text(panel.sub)
  }
})
</script>
</body>
</html>
